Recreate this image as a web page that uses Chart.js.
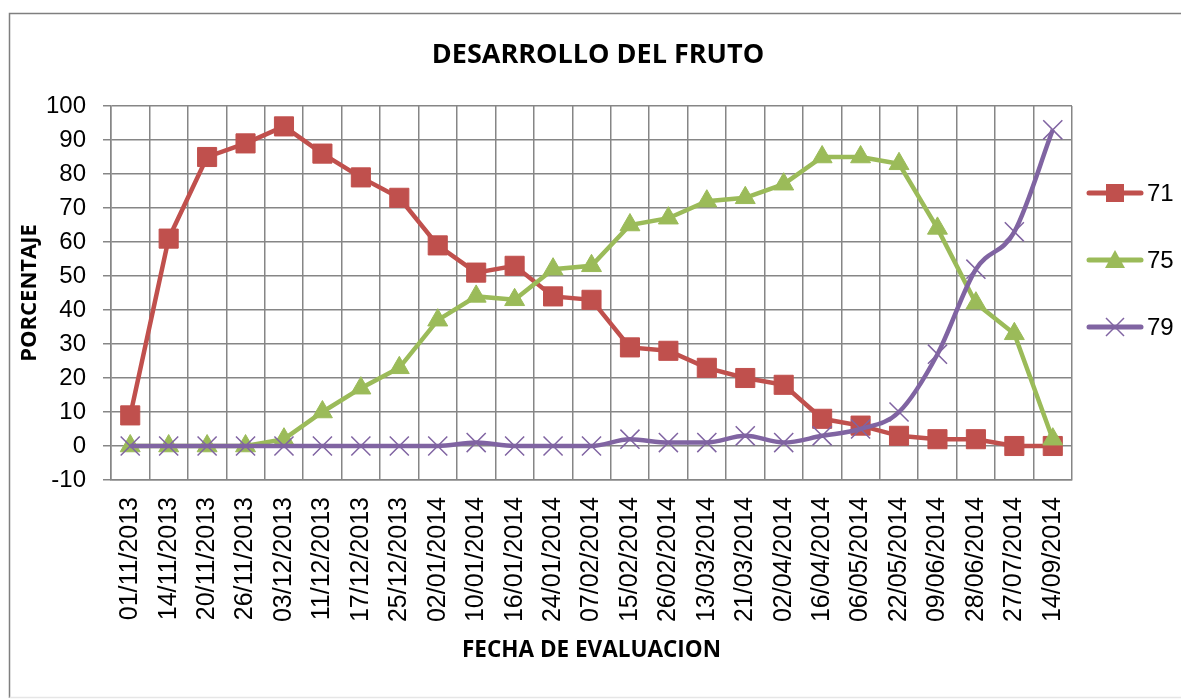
<!DOCTYPE html>
<html>
<head>
<meta charset="utf-8">
<script src="https://cdn.jsdelivr.net/npm/chart.js@4.4.1/dist/chart.umd.min.js"></script>
<style>
  html, body { margin: 0; padding: 0; background: #fff; }
  #wrap { width: 1181px; height: 699px; }
</style>
</head>
<body>
<div id="wrap"><canvas id="chart" width="1181" height="699"></canvas></div>
<script>
const fechas = [
  '01/11/2013', '14/11/2013', '20/11/2013', '26/11/2013', '03/12/2013',
  '11/12/2013', '17/12/2013', '25/12/2013', '02/01/2014', '10/01/2014',
  '16/01/2014', '24/01/2014', '07/02/2014', '15/02/2014', '26/02/2014',
  '13/03/2014', '21/03/2014', '02/04/2014', '16/04/2014', '06/05/2014',
  '22/05/2014', '09/06/2014', '28/06/2014', '27/07/2014', '14/09/2014',
];
const serie71 = [9, 61, 85, 89, 94, 86, 79, 73, 59, 51, 53, 44, 43, 29, 28, 23, 20, 18, 8, 6, 3, 2, 2, 0, 0];
const serie75 = [0, 0, 0, 0, 2, 10, 17, 23, 37, 44, 43, 52, 53, 65, 67, 72, 73, 77, 85, 85, 83, 64, 42, 33, 2];
const serie79 = [0, 0, 0, 0, 0, 0, 0, 0, 0, 1, 0, 0, 0, 2, 1, 1, 3, 1, 3, 5, 10, 27, 52, 63, 93];
const etiquetas = ['71', '75', '79'];
const titulo = 'DESARROLLO DEL FRUTO';

const RED = '#C0504D';
const GREEN = '#9BBB59';
const PURPLE = '#8064A2';
const GRID = '#868686';

// title centred on the whole frame (excel style), not on the plot
const tituloExcel = {
  id: 'tituloExcel',
  afterDraw(chart) {
    const ctx = chart.ctx;
    ctx.save();
    ctx.fillStyle = '#000';
    ctx.font = 'bold 27px "Open Sans", sans-serif';
    ctx.textAlign = 'center';
    ctx.textBaseline = 'alphabetic';
    ctx.fillText(titulo, 598, 63);
    ctx.restore();
  },
};

// legend on the right, line + marker like excel
const legendaExcel = {
  id: 'legendaExcel',
  afterDraw(chart) {
    const ctx = chart.ctx;
    const ys = [193, 260, 327];
    chart.data.datasets.forEach((ds, i) => {
      const y = ys[i];
      const cx = 1115;
      ctx.save();
      ctx.strokeStyle = ds.borderColor;
      ctx.lineWidth = 5;
      ctx.lineCap = 'round';
      ctx.beginPath();
      ctx.moveTo(1089, y);
      ctx.lineTo(1141, y);
      ctx.stroke();
      ctx.fillStyle = ds.borderColor;
      if (ds.pointStyle === 'rect') {
        ctx.fillRect(cx - 9, y - 9, 18, 18);
      } else if (ds.pointStyle === 'triangle') {
        ctx.beginPath();
        ctx.moveTo(cx, y - 10);
        ctx.lineTo(cx + 10, y + 8);
        ctx.lineTo(cx - 10, y + 8);
        ctx.closePath();
        ctx.fill();
      } else {
        ctx.lineWidth = 1.5;
        ctx.lineCap = 'butt';
        ctx.beginPath();
        ctx.moveTo(cx - 9, y - 9);
        ctx.lineTo(cx + 9, y + 9);
        ctx.moveTo(cx + 9, y - 9);
        ctx.lineTo(cx - 9, y + 9);
        ctx.stroke();
      }
      ctx.fillStyle = '#000';
      ctx.font = '24px "Liberation Sans", Arial, sans-serif';
      ctx.textAlign = 'left';
      ctx.textBaseline = 'middle';
      ctx.fillText(ds.label, 1147, y + 1);
      ctx.restore();
    });
  },
};

const marco = {
  id: 'marco',
  beforeDraw(chart) {
    const ctx = chart.ctx;
    ctx.save();
    ctx.fillStyle = '#fff';
    ctx.fillRect(0, 0, chart.width, chart.height);
    ctx.strokeStyle = '#7f7f7f';
    ctx.lineWidth = 1.5;
    ctx.beginPath();
    ctx.moveTo(9.5, 698);
    ctx.lineTo(9.5, 13.5);
    ctx.lineTo(1181, 13.5);
    ctx.stroke();
    ctx.strokeStyle = '#e6e6e6';
    ctx.beginPath();
    ctx.moveTo(9.5, 697.5);
    ctx.lineTo(1181, 697.5);
    ctx.stroke();
    ctx.restore();
  },
};

const yFont = { family: '"Liberation Sans", Arial, sans-serif', size: 24 };
const xFont = { family: '"Liberation Sans", Arial, sans-serif', size: 25 };
const boldFont = size => ({ family: '"Open Sans", sans-serif', size, weight: 'bold' });

new Chart(document.getElementById('chart'), {
  type: 'line',
  data: {
    labels: fechas,
    datasets: [
      {
        label: etiquetas[0],
        data: serie71,
        borderColor: RED,
        backgroundColor: RED,
        borderWidth: 4.5,
        pointStyle: 'rect',
        pointRadius: 13.5,
        pointBorderWidth: 1,
        pointBorderColor: RED,
        pointBackgroundColor: RED,
        tension: 0,
        order: 3,
      },
      {
        label: etiquetas[1],
        data: serie75,
        borderColor: GREEN,
        backgroundColor: GREEN,
        borderWidth: 4.5,
        pointStyle: 'triangle',
        pointRadius: 11.5,
        pointBorderWidth: 1,
        pointBorderColor: GREEN,
        pointBackgroundColor: GREEN,
        tension: 0,
        order: 2,
      },
      {
        label: etiquetas[2],
        data: serie79,
        borderColor: PURPLE,
        backgroundColor: PURPLE,
        borderWidth: 4.5,
        pointStyle: 'crossRot',
        pointRadius: 13.5,
        pointBorderWidth: 1.5,
        pointBorderColor: PURPLE,
        cubicInterpolationMode: 'monotone',
        tension: 0.3,
        order: 1,
      },
    ],
  },
  options: {
    responsive: false,
    animation: false,
    events: [],
    layout: { padding: { left: 0, right: 109, top: 106, bottom: 0 } },
    plugins: {
      legend: { display: false },
      tooltip: { enabled: false },
      title: { display: false },
    },
    scales: {
      x: {
        offset: true,
        afterFit: s => { s.height = 219; },
        grid: { offset: true, color: GRID, lineWidth: 1.5, drawTicks: false },
        border: { color: GRID, width: 1.5 },
        ticks: {
          autoSkip: false,
          minRotation: 90,
          maxRotation: 90,
          padding: 17,
          color: '#000',
          font: xFont,
        },
        title: {
          display: true,
          text: 'FECHA DE EVALUACION',
          color: '#000',
          font: boldFont(22.5),
          padding: { top: 0, bottom: 35 },
        },
      },
      y: {
        min: -10,
        max: 100,
        afterFit: s => { s.width = 111; },
        grid: { color: GRID, lineWidth: 1.5, tickLength: 8 },
        border: { color: GRID, width: 1.5 },
        ticks: { stepSize: 10, padding: 17, color: '#000', font: yFont },
        title: {
          display: true,
          text: 'PORCENTAJE',
          color: '#000',
          font: boldFont(22),
          padding: { top: 17, bottom: 0 },
        },
      },
    },
  },
  plugins: [marco, tituloExcel, legendaExcel],
});
</script>
</body>
</html>
